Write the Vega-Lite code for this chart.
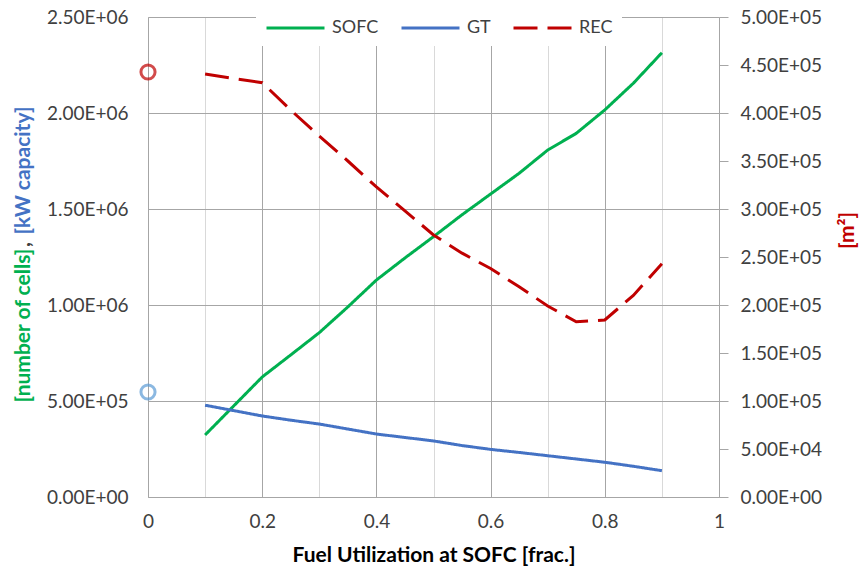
{
  "$schema": "https://vega.github.io/schema/vega-lite/v6.json",
  "width": 571,
  "height": 480,
  "autosize": {"type": "none"},
  "padding": {"left": 148, "top": 17, "right": 142, "bottom": 78},
  "background": "white",
  "config": {
    "view": {"stroke": null},
    "font": "Lato",
    "axis": {"labelFont": "Lato", "titleFont": "Lato", "labelColor": "#404040", "labelFontSize": 19, "titleFontSize": 21, "titleFontWeight": "bold"},
    "legend": {"labelFont": "Lato", "labelFontSize": 18, "labelColor": "#404040"}
  },
  "datasets": {
    "main": [
      {"u": 0.1, "SOFC": 323000, "GT": 478000, "REC": 440600},
      {"u": 0.15, "SOFC": 474000, "GT": 450000, "REC": 436000},
      {"u": 0.2, "SOFC": 625000, "GT": 422000, "REC": 431600},
      {"u": 0.25, "SOFC": 740000, "GT": 400000, "REC": 403000},
      {"u": 0.3, "SOFC": 856000, "GT": 380000, "REC": 376000},
      {"u": 0.35, "SOFC": 990000, "GT": 354000, "REC": 350000},
      {"u": 0.4, "SOFC": 1130000, "GT": 328000, "REC": 323000},
      {"u": 0.45, "SOFC": 1245000, "GT": 310000, "REC": 298000},
      {"u": 0.5, "SOFC": 1356000, "GT": 292000, "REC": 273000},
      {"u": 0.55, "SOFC": 1470000, "GT": 268000, "REC": 254000},
      {"u": 0.6, "SOFC": 1578000, "GT": 248000, "REC": 238000},
      {"u": 0.65, "SOFC": 1686000, "GT": 232000, "REC": 219000},
      {"u": 0.7, "SOFC": 1807000, "GT": 215000, "REC": 199000},
      {"u": 0.75, "SOFC": 1894000, "GT": 198000, "REC": 182600},
      {"u": 0.8, "SOFC": 2016000, "GT": 181000, "REC": 184400},
      {"u": 0.85, "SOFC": 2155000, "GT": 160000, "REC": 210000},
      {"u": 0.9, "SOFC": 2314000, "GT": 137000, "REC": 243000}
    ],
    "markers": [
      {"u": 0, "GT": 547000, "REC": 442700}
    ]
  },
  "resolve": {"scale": {"y": "independent"}, "axis": {"y": "independent"}},
  "layer": [
    {
      "data": {"name": "main"},
      "mark": {"type": "line", "strokeWidth": 3},
      "encoding": {
        "x": {
          "field": "u", "type": "quantitative",
          "scale": {"domain": [0, 1], "nice": false, "zero": false},
          "axis": {
            "values": [0, 0.05, 0.1, 0.15, 0.2, 0.25, 0.3, 0.35, 0.4, 0.45, 0.5, 0.55, 0.6, 0.65, 0.7, 0.75, 0.8, 0.85, 0.9, 0.95, 1],
            "format": ".1~f",
            "labelExpr": "abs(datum.value*5 - round(datum.value*5)) < 0.001 ? datum.label : ''",
            "labelOverlap": false,
            "labelFlush": false,
            "labelPadding": 15,
            "ticks": false,
            "grid": true,
            "gridWidth": 1,
            "gridColor": {"condition": {"test": "abs(datum.value*5 - round(datum.value*5)) < 0.001", "value": "#A6A6A6"}, "value": "#D9D9D9"},
            "domainColor": "#A6A6A6",
            "title": "Fuel Utilization at SOFC [frac.]",
            "titleColor": "#000000",
            "titleBaseline": "middle",
            "titleY": 58
          }
        },
        "y": {
          "field": "SOFC", "type": "quantitative",
          "scale": {"domain": [0, 2500000], "nice": false},
          "axis": {
            "orient": "left",
            "values": [0, 500000, 1000000, 1500000, 2000000, 2500000],
            "labelExpr": "datum.value == 0 ? '0.00E+00' : format(datum.value / pow(10, floor(log(datum.value)/LN10 + 1e-9)), '.2f') + 'E+' + (floor(log(datum.value)/LN10 + 1e-9) < 10 ? '0' : '') + floor(log(datum.value)/LN10 + 1e-9)",
            "ticks": false,
            "labelPadding": 20,
            "grid": true,
            "gridColor": "#A6A6A6",
            "domainColor": "#A6A6A6",
            "title": "[number of cells]",
            "titleColor": "#00B050",
            "titleFontSize": 21,
            "titleAngle": -90,
            "titleBaseline": "middle",
            "titleX": -125,
            "titleY": 308
          }
        },
        "color": {"datum": "SOFC", "scale": {"domain": ["SOFC", "GT", "REC"], "range": ["#00B050", "#4472C4", "#C00000"]},
          "legend": {"title": null, "orient": "none", "legendX": 108, "legendY": -14, "direction": "horizontal", "fillColor": "white", "padding": 9, "symbolType": "M-1,0H3", "symbolSize": 841, "symbolStrokeWidth": 3, "labelOffset": 35, "columnPadding": 16}},
        "strokeDash": {"datum": "SOFC", "scale": {"domain": ["SOFC", "GT", "REC"], "range": [[1, 0], [1, 0], [24, 10]]},
          "legend": {"title": null, "orient": "none", "legendX": 108, "legendY": -14, "direction": "horizontal", "fillColor": "white", "padding": 9, "symbolType": "M-1,0H3", "symbolSize": 841, "symbolStrokeWidth": 3, "labelOffset": 35, "columnPadding": 16}}
      }
    },
    {
      "data": {"name": "main"},
      "mark": {"type": "line", "strokeWidth": 3},
      "encoding": {
        "x": {"field": "u", "type": "quantitative"},
        "y": {
          "field": "GT", "type": "quantitative",
          "scale": {"domain": [0, 2500000], "nice": false},
          "axis": {
            "orient": "left", "labels": false, "ticks": false, "domain": false, "grid": false,
            "title": "[kW capacity]", "titleColor": "#4472C4", "titleFontSize": 21, "titleAngle": -90, "titleBaseline": "middle",
            "titleX": -125, "titleY": 153
          }
        },
        "color": {"datum": "GT"},
        "strokeDash": {"datum": "GT"}
      }
    },
    {
      "data": {"name": "markers"},
      "mark": {"type": "point", "shape": "circle", "filled": false, "size": 200, "strokeWidth": 3, "color": "#5B9BD5", "clip": false},
      "encoding": {
        "x": {"field": "u", "type": "quantitative"},
        "y": {"field": "GT", "type": "quantitative", "scale": {"domain": [0, 2500000], "nice": false}, "axis": null}
      }
    },
    {
      "data": {"name": "main"},
      "mark": {"type": "line", "strokeWidth": 3},
      "encoding": {
        "x": {"field": "u", "type": "quantitative"},
        "y": {
          "field": "REC", "type": "quantitative",
          "scale": {"domain": [0, 500000], "nice": false},
          "axis": {
            "orient": "right",
            "values": [0, 50000, 100000, 150000, 200000, 250000, 300000, 350000, 400000, 450000, 500000],
            "labelExpr": "datum.value == 0 ? '0.00E+00' : format(datum.value / pow(10, floor(log(datum.value)/LN10 + 1e-9)), '.2f') + 'E+' + (floor(log(datum.value)/LN10 + 1e-9) < 10 ? '0' : '') + floor(log(datum.value)/LN10 + 1e-9)",
            "ticks": true, "tickSize": 9, "tickColor": "#A6A6A6",
            "labelPadding": 12,
            "grid": false,
            "domainColor": "#A6A6A6",
            "title": "[m²]", "titleColor": "#C00000", "titleAngle": -90, "titleBaseline": "middle",
            "titleX": 128, "titleY": 213
          }
        },
        "color": {"datum": "REC"},
        "strokeDash": {"datum": "REC"}
      }
    },
    {
      "data": {"name": "markers"},
      "mark": {"type": "point", "shape": "circle", "filled": false, "size": 200, "strokeWidth": 3, "color": "#C00000", "clip": false},
      "encoding": {
        "x": {"field": "u", "type": "quantitative"},
        "y": {
          "field": "REC", "type": "quantitative",
          "scale": {"domain": [0, 500000], "nice": false},
          "axis": {
            "orient": "left", "labels": false, "ticks": false, "domain": false, "grid": false,
            "title": ",", "titleColor": "#404040", "titleFontSize": 21, "titleAngle": -90, "titleBaseline": "middle",
            "titleX": -125, "titleY": 227
          }
        }
      }
    }
  ]
}
